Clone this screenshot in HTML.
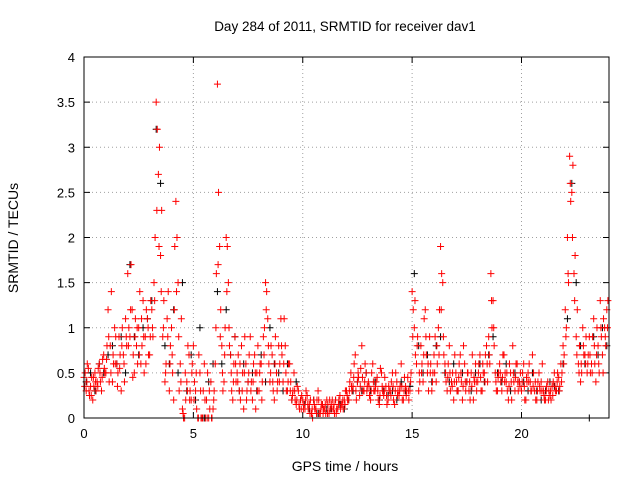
<!DOCTYPE html>
<html><head><meta charset="utf-8"><style>
body{margin:0;background:#fff}
svg{display:block;font-family:"Liberation Sans",sans-serif}
</style></head><body>
<svg id="chart" width="640" height="480" xmlns="http://www.w3.org/2000/svg">
<text x="345" y="31" font-size="13.5" text-anchor="middle">Day 284 of 2011, SRMTID for receiver dav1</text>
<text x="345" y="471" font-size="14" text-anchor="middle">GPS time / hours</text>
<text x="18" y="238" font-size="14" text-anchor="middle" transform="rotate(-90 18 238)">SRMTID / TECUs</text>
<g id="grid"></g>
<g id="ticks"></g>
<g id="marks"></g>
<rect x="84" y="57" width="525" height="361" fill="none" stroke="#000" stroke-width="1"/>
</svg>
<script>
const xTicks=[0,5,10,15,20];
const yTicks=[0,0.5,1,1.5,2,2.5,3,3.5,4];
const yTickLabels=["0","0.5","1","1.5","2","2.5","3","3.5","4"];
const redStep=0.1;
const blackStep=0.2;
const redA=[.45,.3,.55,.35,.2,.5,.4,.6,.3,.7,
.5,1.2,.8,.4,1.0,.6,.9,.3,.7,1.1,
1.6,.9,1.2,.5,.8,1.0,.6,1.3,.9,1.1,
.7,1.2,1.5,3.5,2.7,1.8,.9,.4,1.1,.3,
1.0,.2,2.4,1.5,.6,.1,0,.4,.7,.2,
.8,.3,0,.5,0,.6,.2,0,.4,.1,
.6,3.7,1.9,.8,.4,2.0,1.5,.7,.2,.9,
.5,.3,.8,.1,.6,.4,.9,.2,.7,.5,
.3,.6,.9,1.5,1.1,.4,.7,.2,.5,.8,
1.1,.4,.8,.3,.6,.2,.5,.15,.3,.2,
.2,.1,.25,.15,.05,.2,.1,.3,.05,.15,
.1,.2,.05,.15,.1,.2,.1,.25,.15,.2,
.3,.2,.5,.35,.7,.4,.25,.8,.3,.5,
.4,.2,.6,.3,.45,.15,.5,.25,.35,.2,
.3,.5,.15,.4,.25,.6,.2,.35,.45,.3,
1.4,1.0,.6,.3,.8,.4,1.2,.5,.9,.3,
.7,.4,1.0,1.9,1.5,.6,.3,.8,.4,.2,
.5,.3,.7,.2,.6,.4,.3,.5,.2,.6,
.4,.7,.3,.5,.8,.9,1.6,1.3,.5,.3,
.6,.3,.7,.4,.2,.5,.8,.3,.6,.4,
.3,.6,.2,.5,.4,.7,.3,.2,.5,.4,
.3,.2,.4,.25,.35,.5,.3,.45,.6,.8,
1.2,2.0,2.9,2.5,1.6,.9,.6,.4,1.0,.7,
.5,.9,.6,1.1,.4,.8,1.3,.7,1.0,1.2];
const redB=[.5,.6,.25,.45,.35,.3,.55,.4,.65,.5,
.8,.4,1.4,.6,.9,.5,.7,1.0,.4,.8,
1.0,1.7,.7,1.1,.6,1.4,.8,.5,1.2,.7,
1.3,.9,2.0,3.2,3.0,2.3,1.3,.6,1.4,.8,
.5,1.9,2.0,.3,1.1,0,.2,.8,.3,.6,
.4,.1,.7,0,.3,0,.5,.1,0,.3,
1.6,2.5,1.2,.3,1.0,1.9,.8,.3,.6,.4,
.7,.2,.5,.9,.3,.7,.4,.6,.1,.8,
.6,.4,1.0,1.4,.6,.8,.3,.9,.4,.6,
.7,1.1,.3,.6,.4,.3,.2,.35,.1,.25,
.15,.3,.1,.2,0,.1,.2,.05,.15,.1,
.05,.15,.1,.2,.05,.1,.2,.15,.1,.3,
.2,.4,.3,.6,.2,.45,.55,.3,.6,.35,
.25,.5,.3,.4,.2,.55,.3,.45,.15,.3,
.4,.2,.5,.3,.35,.2,.45,.3,.2,.5,
1.2,.7,.9,.4,.6,1.1,.7,.3,.6,.5,
.9,.6,1.2,1.6,.7,.4,.6,.3,.5,.7,
.3,.6,.4,.8,.3,.5,.2,.7,.4,.3,
.6,.3,.5,.7,.4,.6,1.0,.8,.3,.5,
.4,.7,.5,.3,.6,.2,.4,.6,.3,.5,
.5,.2,.4,.6,.3,.5,.2,.4,.3,.6,
.2,.35,.3,.2,.4,.3,.5,.35,.5,.7,
1.0,1.5,2.4,2.8,1.8,1.2,.8,.5,.7,.9,
.7,.5,.9,.6,1.0,.5,.9,1.1,.8,1.3];
const redC=[.35,.4,.3,.25,.45,.4,.35,.5,.45,.55,
.65,.9,.5,.7,.6,.35,.55,.8,.6,.9,
.8,1.2,.45,.9,1.0,.7,1.1,.9,.6,1.0,
.9,1.0,1.3,2.3,1.9,1.4,1.0,.5,.9,.6,
.7,1.2,1.4,.9,.4,.05,.5,.3,.2,.5,
.2,.5,.0,.3,.0,.2,.0,.3,0,.2,
1.0,1.7,.9,.5,.7,1.4,1.0,.5,.4,.6,
.4,.6,.3,.5,.2,.5,.3,.4,.5,.3,
.5,.2,.7,1.2,.8,.5,.4,.6,.3,.4,
.8,.6,.5,.4,.3,.25,.3,.2,.15,.1,
.1,.2,.15,.05,.1,.15,.05,.2,.1,.05,
.15,.05,.2,.1,.15,.05,.15,.1,.2,.15,
.25,.3,.35,.45,.3,.5,.35,.45,.4,.3,
.35,.3,.4,.35,.3,.25,.35,.3,.25,.35,
.25,.35,.3,.25,.3,.35,.3,.25,.3,.4,
.9,1.3,.8,.5,.5,.7,.9,.6,.5,.4,
.5,.8,.7,1.2,.9,.5,.45,.5,.35,.4,
.4,.45,.5,.35,.4,.5,.4,.35,.45,.4,
.5,.45,.6,.4,.6,.7,1.3,1.0,.4,.45,
.5,.45,.4,.5,.35,.4,.5,.45,.4,.35,
.4,.35,.45,.4,.3,.35,.4,.3,.35,.3,
.25,.3,.2,.3,.25,.35,.4,.3,.4,.6,
.9,1.6,2.6,2.0,1.3,.7,.5,.6,.8,.6,
.6,.7,.5,.8,.7,.6,1.0,.5,.9,1.0];
const blackV=[.4,.5,.3,.6,.5,.7,.8,.6,.9,.5,
1.7,.9,.7,1.0,1.1,1.3,3.2,2.6,.8,.6,
1.2,.5,1.5,.3,.7,.2,1.0,0,.4,.6,
1.4,.6,1.2,.7,.9,.3,.6,.4,.5,.3,
.7,.4,1.0,.6,.5,.3,.6,.2,.4,.2,
.15,.1,.2,.05,.15,.1,.1,.2,.15,.1,
.2,.3,.4,.3,.5,.3,.4,.2,.3,.25,
.3,.2,.4,.3,.35,1.6,.8,.5,.7,.4,
.8,.9,.5,.4,.6,.3,.5,.4,.3,.5,
.6,.4,.7,.9,.5,.4,.6,.3,.5,.4,
.4,.3,.5,.3,.2,.3,.4,.35,.3,.6,
1.1,2.6,1.5,.8,.6,0,.9,.7,1.0,.8];
const NS="http://www.w3.org/2000/svg";
const X0=84,X1=609,Y0=418,Y1=57,XMAX=24,YMAX=4;
const xs=t=>X0+(X1-X0)*t/XMAX;
const ys=v=>Y0-(Y0-Y1)*v/YMAX;
const grid=document.getElementById('grid'),ticks=document.getElementById('ticks'),marks=document.getElementById('marks');
function el(tag,attrs,parent){const e=document.createElementNS(NS,tag);for(const k in attrs)e.setAttribute(k,attrs[k]);parent.appendChild(e);return e;}
xTicks.forEach(t=>{
  const x=xs(t);
  if(t>0){const g=el('line',{x1:x,x2:x,y1:Y0,y2:Y1,stroke:'#a0a0a0','stroke-dasharray':'1,3'},grid);
  
  }
  el('line',{x1:x,x2:x,y1:Y0,y2:Y0-6,stroke:'#000'},ticks);
  el('line',{x1:x,x2:x,y1:Y1,y2:Y1+6,stroke:'#000'},ticks);
  const tx=el('text',{x:x,y:Y0+20,'font-size':13,'text-anchor':'middle'},ticks);
  tx.textContent=String(t);
  
  
});
yTicks.forEach((v,i)=>{
  const y=ys(v);
  if(v>0&&v<YMAX){const g=el('line',{x1:X0,x2:X1,y1:y,y2:y,stroke:'#a0a0a0','stroke-dasharray':'1,3'},grid);
  
  }
  el('line',{x1:X0,x2:X0+6,y1:y,y2:y,stroke:'#000'},ticks);
  el('line',{x1:X1,x2:X1-6,y1:y,y2:y,stroke:'#000'},ticks);
  const tx=el('text',{x:X0-9,y:y+5,'font-size':13,'text-anchor':'end'},ticks);
  tx.textContent=yTickLabels[i];
  
  
});
function plus(t,v,color){
  const x=xs(t),y=ys(v);
  const p=el('path',{d:`M${x-3.5},${y}H${x+3.5}M${x},${y-3.5}V${y+3.5}`,stroke:color,'stroke-width':1,fill:'none'},marks);
  
  
}
blackV.forEach((v,i)=>plus(i*blackStep+0.1,v,'#000'));
redA.forEach((v,i)=>plus(i*redStep,v,'#ff0000'));
redB.forEach((v,i)=>plus(i*redStep+0.05,v,'#ff0000'));
redC.forEach((v,i)=>plus(i*redStep+0.03,v,'#ff0000'));
</script>
</body></html>
